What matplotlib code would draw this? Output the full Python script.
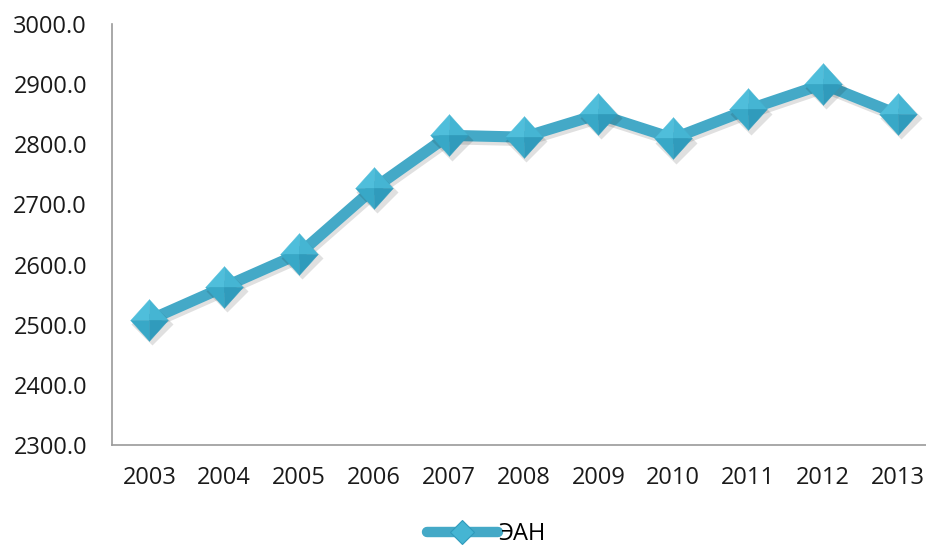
import numpy as np
import matplotlib
matplotlib.use("Agg")
import matplotlib.pyplot as plt
from matplotlib.lines import Line2D
from matplotlib import patheffects as pe
from matplotlib.transforms import ScaledTranslation

years = ['2003', '2004', '2005', '2006', '2007', '2008',
         '2009', '2010', '2011', '2012', '2013']
ean = [2508, 2563, 2618, 2727, 2815, 2812, 2850, 2810, 2858, 2900, 2850]
series_name = 'ЭАН'
yticks = [2300, 2400, 2500, 2600, 2700, 2800, 2900, 3000]

plt.rcParams['font.family'] = ['Open Sans', 'DejaVu Sans']

line_col = '#44a9c7'
# four faces of the pyramid-like diamond marker (a bit taller than wide)
faces = [
    ([(0, 0), (-0.9, 0), (0, 1)], '#4fbedb'),    # top left
    ([(0, 0), (0, 1), (0.9, 0)], '#45b5d3'),     # top right
    ([(0, 0), (0, -1), (-0.9, 0)], '#38a8c7'),   # bottom left
    ([(0, 0), (0.9, 0), (0, -1)], '#309bbc'),    # bottom right
]

fig = plt.figure(figsize=(9.26, 5.48), dpi=100)
ax = fig.add_axes([0.121, 0.188, 0.889, 0.768])

x = np.arange(len(years))
shadow = [pe.SimpleLineShadow(offset=(1.5, -2.5), shadow_color='#000000', alpha=0.12), pe.Normal()]
ax.plot(x, ean, color=line_col, lw=8, solid_capstyle='butt', path_effects=shadow, zorder=2)

# soft shadow under each marker, then the faces on top
ax.plot(x, ean, ls='none', marker='D', ms=21, mfc='#000000', mec='none', alpha=0.12,
        transform=ax.transData + ScaledTranslation(2 / 72, -3 / 72, fig.dpi_scale_trans),
        zorder=3)
for verts, c in faces:
    ax.plot(x, ean, ls='none', marker=verts + [verts[0]], ms=30, mfc=c, mec=c, mew=0.3, zorder=4)

ax.set_xlim(-0.5, len(years) - 0.5)
ax.set_ylim(2300, 3000)
ax.set_xticks(x)
ax.set_xticklabels(years)
ax.set_yticks(yticks)
ax.set_yticklabels(['%.1f' % v for v in yticks])
ax.tick_params(axis='both', length=0, labelsize=17, colors='#1a1a1a')
ax.tick_params(axis='y', pad=18)
ax.tick_params(axis='x', pad=15)

for s in ['top', 'right']:
    ax.spines[s].set_visible(False)
for s in ['left', 'bottom']:
    ax.spines[s].set_color('#9a9a9a')
    ax.spines[s].set_linewidth(1.2)

handle = Line2D([], [], color=line_col, lw=7.5, solid_capstyle='round', marker='D', ms=12,
                mfc='#45b5d3', mec='#309bbc', mew=0.8)
fig.legend([handle], [series_name], loc='center', bbox_to_anchor=(0.525, 0.025),
           frameon=False, fontsize=17, handlelength=3.0, handletextpad=0.0)

fig.savefig('out.png', dpi=100)
